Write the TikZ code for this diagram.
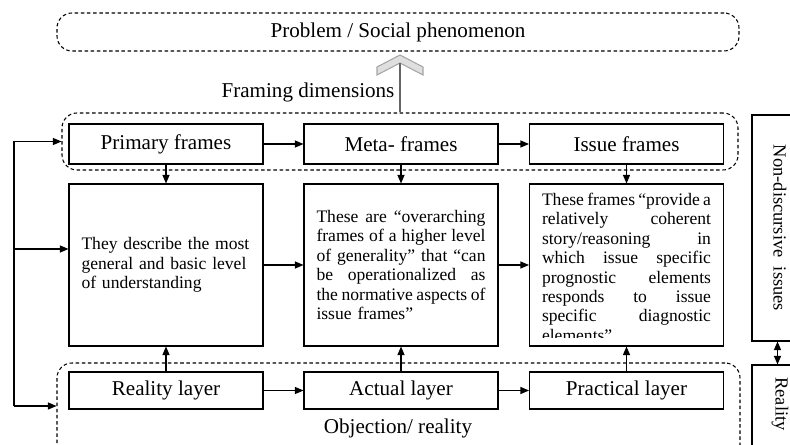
\documentclass[tikz,border=0pt]{standalone}
\usepackage{fontspec}
\setmainfont{Liberation Serif}
\usetikzlibrary{arrows.meta}

% one justified line of a description
\newcommand{\jline}[1]{\makebox[\hsize][s]{\spaceskip=0pt\xspaceskip=0pt #1}\\}

\begin{document}
\begin{tikzpicture}[line width=0.6pt,
  >={Triangle[length=1.7mm,width=1.4mm]},
  title/.style={font=\fontsize{12}{14}\selectfont},
  frame/.style={draw, title, minimum height=0.8cm, minimum width=3.88cm},
  layer/.style={draw, title, minimum height=0.74cm, minimum width=3.88cm},
  content/.style={draw, minimum height=3.24cm, text width=3.38cm, inner xsep=0.25cm,
    align=left, font=\fontsize{10}{11.05}\selectfont},
  desc/.style={text width=3.38cm, inner sep=0pt, align=left,
    font=\fontsize{10}{11.05}\selectfont},
  group/.style={draw, dash pattern=on 2pt off 1.5pt, rounded corners=0.3cm},
  side/.style={rotate=-90, font=\fontsize{10.5}{12}\selectfont}]

\clip (0,0) rectangle (15.8,8.9);

% Problem on top
\node[group, title, minimum width=13.64cm, minimum height=0.76cm] (problem) at (7.96,8.26) {Problem / Social phenomenon};

% Hollow arrow up to the problem
\filldraw[fill=gray!25, draw=gray!70] (8.0,7.8) -- (8.46,7.56) -- (8.46,7.4) -- (8.0,7.64) -- (7.54,7.4) -- (7.54,7.56) -- cycle;
\coordinate (notch) at (8.0,7.64);
\node[title] (dimlabel) at (6.16,7.06) {Framing dimensions};

% Framing dimensions
\node[group, minimum width=13.52cm, minimum height=1.14cm] (dims) at (8.0,6.07) {};
\draw[draw=gray!80!black] (notch) -- (dims.north);
\node[frame] (primary) at (3.32,6.02) {Primary frames};
\node[frame] (meta) at (8.02,6.02) {Meta- frames};
\node[frame] (issue) at (12.53,6.02) {Issue frames};

% Descriptions
\node[content] (general) at (3.32,3.6) {They describe the most\\ general and basic level\\ of understanding};
\node[content] (middle) at (8.02,3.6) {\jline{These are “overarching}
  \jline{frames of a higher level}
  \jline{of generality” that “can}
  \jline{be operationalized as}
  \jline{the normative aspects of}
  issue frames”};
\node[content] (issuebox) at (12.53,3.6) {};
\begin{scope}
\clip (issuebox.north west) rectangle ([yshift=0.18cm]issuebox.south east);
\node[desc, anchor=north] (issuetxt) at ([yshift=-0.18cm]issuebox.north) {\jline{These frames “provide a}
  \jline{relatively coherent}
  \jline{story/reasoning in}
  \jline{which issue specific}
  \jline{prognostic elements}
  \jline{responds to issue}
  \jline{specific diagnostic}
  elements”};
\end{scope}

% Layers
\node[group, minimum width=13.66cm, minimum height=2.4cm] (layers) at (7.97,0.44) {};
\node[layer] (reality) at (3.32,1.09) {Reality layer};
\node[layer] (actual) at (8.02,1.09) {Actual layer};
\node[layer] (practical) at (12.53,1.09) {Practical layer};
\node[title] (objection) at (7.96,0.34) {Objection/ reality};

% Right side
\node[draw, minimum width=1.12cm, minimum height=4.52cm] (nondisc) at (15.6,4.34) {};
\node[side] (nondisctxt) at (nondisc.center) {Non-discursive\ \ issues};
\node[draw, minimum width=1.12cm, minimum height=2.2cm] (realitybox) at (15.6,0.5) {};
\node[side] (realitytxt) at (15.6,0.82) {Reality};
\draw[<->] ([xshift=-0.05cm]nondisc.south) -- ([xshift=-0.05cm]realitybox.north);

% Arrows
\draw[->] (primary) -- (meta);
\draw[->] (meta) -- (issue);
\draw[->] (primary) -- (general);
\draw[->] (meta) -- (middle);
\draw[->] (issue) -- (issuebox);
\draw[->] (general) -- (middle);
\draw[->] (middle) -- (issuebox);
\draw[->] (reality) -- (general);
\draw[->] (actual) -- (middle);
\draw[->] (practical) -- (issuebox);
\draw[->] (reality) -- (actual);
\draw[->] (actual) -- (practical);

% Loop on the left
\coordinate (loop) at (0.28,0.78);
\draw[->] (loop) |- (dims.west);
\draw[->] (loop |- 0,3.92) -- (general.west |- 0,3.92);
\draw[->] (loop) -- (loop -| layers.west);

\end{tikzpicture}
\end{document}
